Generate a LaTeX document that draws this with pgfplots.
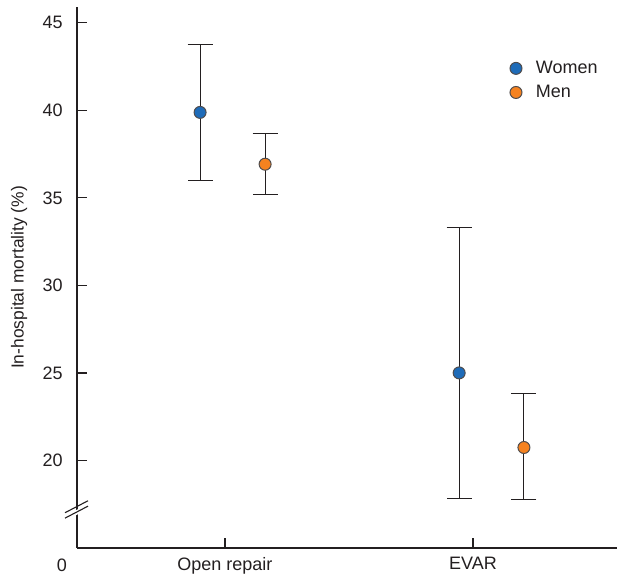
\documentclass[border=0pt]{standalone}
\usepackage{fontspec}
\setmainfont{Liberation Sans}
\usepackage{pgfplots}
\pgfplotsset{compat=1.18}
\definecolor{cblue}{HTML}{1E6BB8}
\definecolor{corange}{HTML}{F58220}
\definecolor{cdark}{HTML}{231F20}
\begin{document}
\fontsize{9}{11}\selectfont
\begin{tikzpicture}
\begin{axis}[
  at={(0,0)}, anchor=south west,
  scale only axis, width=270pt, height=270.5pt,
  xmin=0.404, xmax=2.58, ymin=15, ymax=45.9,
  axis x line*=bottom, axis y line*=left,
  axis line style={cdark, line width=0.7pt},
  xtick={1,2}, xticklabels={Open repair, EVAR},
  ytick={20,25,30,35,40,45},
  tick align=inside, major tick length=5pt,
  tick style={cdark, line width=0.6pt},
  x tick label style={font=\fontsize{9}{11}\selectfont, text=cdark, yshift=-1.5pt},
  y tick label style={font=\fontsize{9}{11}\selectfont, text=cdark, xshift=-4pt},
  /pgf/number format/assume math mode=true,
  ylabel={In-hospital mortality (\%)},
  ylabel style={font=\fontsize{8.7}{10}\selectfont, text=cdark, yshift=1.5pt},
  clip=false,
  legend style={draw=none, fill=none, font=\fontsize{9}{11}\selectfont, text=cdark,
    at={(rel axis cs:0.79,0.916)}, anchor=north west, row sep=0.5pt,
    /tikz/every odd column/.append style={column sep=5pt}},
  legend cell align=left,
  legend image code/.code={\draw[#1] plot coordinates {(0.15cm,0cm)};},
]
\addplot[only marks, mark=*, mark size=3pt, mark options={fill=cblue, draw=cdark!80, line width=0.5pt},
  error bars/.cd, y dir=both, y explicit,
  error bar style={cdark, line width=0.55pt},
  error mark options={cdark, line width=0.55pt, mark size=6.25pt, rotate=90}]
  coordinates {(0.90,39.88) += (0,3.86) -= (0,3.88)
               (1.944,25.0) += (0,8.33) -= (0,7.17)};
\addlegendentry{Women}
\addplot[only marks, mark=*, mark size=3pt, mark options={fill=corange, draw=cdark!80, line width=0.5pt},
  error bars/.cd, y dir=both, y explicit,
  error bar style={cdark, line width=0.55pt},
  error mark options={cdark, line width=0.55pt, mark size=6.25pt, rotate=90}]
  coordinates {(1.162,36.92) += (0,1.77) -= (0,1.72)
               (2.205,20.74) += (0,3.08) -= (0,2.97)};
\addlegendentry{Men}
\coordinate (brk) at (axis cs:0.404,17.23);
\node[font=\fontsize{9}{11}\selectfont, text=cdark] at ([shift={(-7.5pt,-8.5pt)}]axis cs:0.404,15) {0};
\end{axis}
% axis break (drawn over the axis line)
\fill[white] ([shift={(-1.2pt,-3.5pt)}]brk) -- ([shift={(1.2pt,-2.3pt)}]brk)
  -- ([shift={(1.2pt,0.2pt)}]brk) -- ([shift={(-1.2pt,-1pt)}]brk) -- cycle;
\draw[cdark, line width=0.55pt] ([shift={(-6pt,-1.9pt)}]brk) -- ([shift={(5.5pt,4.1pt)}]brk);
\draw[cdark, line width=0.55pt] ([shift={(-6pt,-4.6pt)}]brk) -- ([shift={(5.5pt,1.4pt)}]brk);
\pgfresetboundingbox
\path[use as bounding box] (-38.5pt,-14pt) rectangle (270pt,274pt);
\end{tikzpicture}
\end{document}
